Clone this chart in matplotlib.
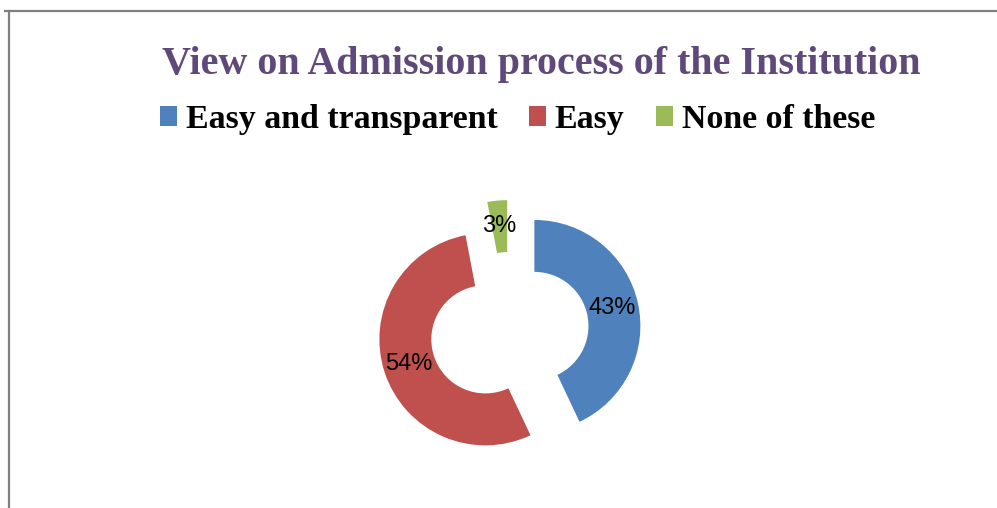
import matplotlib
matplotlib.use("Agg")
import matplotlib.pyplot as plt
from matplotlib.lines import Line2D

# data
categories = ["Easy and transparent", "Easy", "None of these"]
shares = [43, 54, 3]
colors = ["#4F81BD", "#C0504D", "#9BBB59"]
title = "View on Admission process of the Institution"

fig = plt.figure(figsize=(9.97, 5.08), dpi=100)

# pie axes: 1 data unit = 106 px
ax = fig.add_axes([0.341, 0.0136, 0.3402, 0.6677])
wedges, texts, autotexts = ax.pie(
    shares, colors=colors, startangle=90, counterclock=False,
    explode=[0.24] * len(shares), radius=1.0,
    wedgeprops=dict(width=0.49, linewidth=0),
    autopct="%1.0f%%", pctdistance=0.755,
    textprops=dict(family="Liberation Sans", fontsize=17, color="black"),
)
ax.set_xlim(-1.6, 1.6)
ax.set_ylim(-1.6, 1.6)
ax.set_aspect("equal")
ax.axis("off")

fig.text(0.5431, 0.8543, title, ha="center", va="baseline",
         family="Liberation Serif", fontweight="bold", fontsize=28.8,
         color="#5F497A")

fig.legend(wedges, categories, loc="center", bbox_to_anchor=(0.519, 0.7650),
           ncol=3, frameon=False, handlelength=0.5, handleheight=0.5,
           handletextpad=0.27, columnspacing=0.92,
           prop=dict(family="Liberation Serif", weight="bold", size=24.4))

# outer frame (left and top edges visible)
fig.add_artist(Line2D([9 / 997, 9 / 997], [0, 1 - 11 / 508],
                      transform=fig.transFigure, color="#808080", lw=1.6))
fig.add_artist(Line2D([5 / 997, 1], [1 - 11 / 508, 1 - 11 / 508],
                      transform=fig.transFigure, color="#808080", lw=1.6))

fig.savefig("out.png", dpi=100)
